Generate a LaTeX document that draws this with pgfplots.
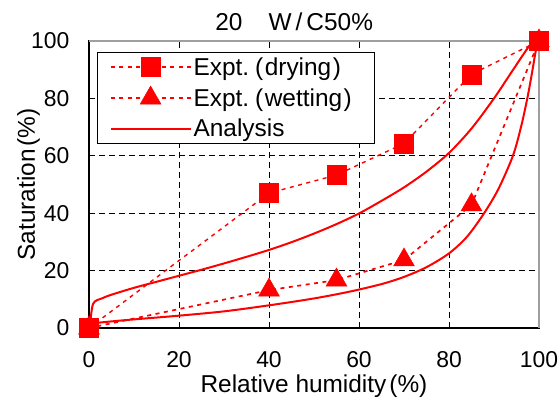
\documentclass[border=0pt]{standalone}
\usepackage{pgfplots}
\pgfplotsset{compat=1.18}
\usepackage{fontspec}
\setmainfont{Liberation Sans}

\newcommand{\lfont}{\fontsize{24.5}{29}\selectfont}

\pgfplotsset{
  markleg/.style={legend image code/.code={%
    \draw[mark repeat=2,mark phase=2,##1] plot coordinates {(0bp,0bp) (40bp,0bp) (80bp,0bp)};}},
  lineleg/.style={legend image code/.code={%
    \draw[##1] (0bp,0bp) -- (80bp,0bp);}},
}

\begin{document}
\begin{tikzpicture}
\path[use as bounding box] (0,0) rectangle (558bp,401bp);
\begin{axis}[
  at={(89bp,73bp)}, anchor=south west,
  scale only axis, width=450bp, height=287bp,
  xmin=0, xmax=100, ymin=0, ymax=100,
  xtick={0,20,...,100}, ytick={0,20,...,100},
  grid=major,
  major grid style={black, line width=0.6bp, dash pattern=on 6bp off 4bp},
  tick align=inside, major tick length=6bp,
  ytick pos=left,
  axis line style={black, line width=1.2bp},
  tick style={black, line width=1bp},
  tick label style={font=\fontsize{23}{27}\selectfont},
  /pgf/number format/assume math mode=true,
  yticklabel style={xshift=-16bp},
  xticklabel style={yshift=-20bp},
  clip=false,
  legend cell align=left,
  legend style={at={(rel axis cs:0.018,0.962)}, anchor=north west,
    draw=black, line width=1bp, inner xsep=12bp, inner ysep=3bp,
    font=\lfont, row sep=7.5bp,
    /tikz/every even column/.append style={column sep=8bp}},
]
% grey top and right border
\draw[gray!75, line width=2.6bp] (rel axis cs:0,1) -- (rel axis cs:1,1) -- (rel axis cs:1,0);

% measured points
\addplot[red, line width=1.4bp, dash pattern=on 4bp off 4.5bp,
  mark=square*, mark size=9.5bp, mark options={solid, fill=red, draw=red, line width=0.5bp},
  markleg]
  coordinates {(0,0) (40,47) (55,53.3) (70,64.3) (85,88.4) (100,100)};
\addlegendentry{Expt.\hspace{6bp}(\hspace{1.5bp}drying\hspace{1.5bp})}

\addplot[red, line width=1.7bp, dash pattern=on 4bp off 4.5bp,
  mark=triangle*, mark size=12bp, mark options={solid, fill=red, draw=red, line width=0.5bp},
  markleg]
  coordinates {(0,0) (40,13.2) (55,16.7) (70,23.7) (85,42.9) (100,100)};
\addlegendentry{Expt.\hspace{6bp}(\hspace{1.5bp}wetting\hspace{1.5bp})\rule{9bp}{0pt}}

% computed drying and wetting branches
\addplot[red, line width=2bp, smooth, tension=0.5, lineleg]
  coordinates {(0.2,0) (0.9,8.4) (3,10.4) (5,11.6) (10,14) (15,16.1) (20,18.2) (25,20.3)
    (30,22.5) (35,24.8) (40,27.2) (45,29.9) (50,32.9) (55,36.2) (60,39.9) (65,44.3)
    (70,49) (75,54.5) (80,61) (85,69.5) (90,80) (94,89.4) (98,98.6) (99.5,100)};
\addlegendentry{Analysis}

\addplot[red, line width=2bp, smooth, tension=0.5, forget plot]
  coordinates {(0,1.5) (5,2.3) (10,3) (20,4.3) (30,5.8) (40,7.9) (50,10.3) (58,12.7)
    (65,15.3) (70,17.8) (75,21.2) (80,26) (84,31.8) (87.8,40) (91,48.5) (94.2,60)
    (96,70) (97.4,80) (98.4,88.5) (99.1,95) (99.7,99.6)};

\node[anchor=base, font=\lfont] at (rel axis cs:0.456,1) [yshift=10bp] {20\hspace{26bp}W\,/\,C50\%};
\node[anchor=base, font=\lfont] at (rel axis cs:0.5,0) [yshift=-64bp] {Relative humidity\hspace{3bp}(\%)};
\node[xshift=-54bp, anchor=base, rotate=90, font=\lfont] at (rel axis cs:0,0.5) {Saturation\hspace{3bp}(\%)};
\end{axis}
\end{tikzpicture}
\end{document}
